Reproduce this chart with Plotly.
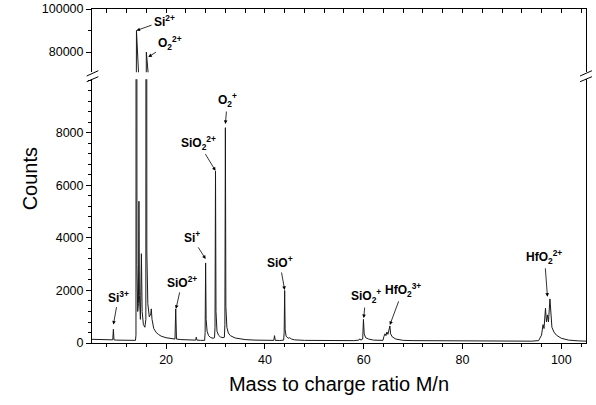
import plotly.graph_objects as go

# ---- spectrum data ----
mass = [5.0, 6, 7, 8, 9, 9.2, 9.33, 9.45, 10, 11, 12, 13, 13.8,
        13.9, 14.0, 14.1, 14.25, 14.4, 14.5, 14.6, 14.8, 15.0, 15.15, 15.4, 15.7, 15.9,
        16.0, 16.1, 16.3, 16.6, 16.9, 17.0, 17.15, 17.5, 18.0, 18.5, 19.0, 20, 21, 21.8,
        21.95, 22.1, 23, 24, 25, 26.0, 26.1, 26.25, 27, 27.8, 27.9, 28.0, 28.1, 28.3,
        28.6, 29.0, 29.5, 29.8, 29.9, 30.0, 30.1, 30.3, 30.6, 31.0, 31.5, 31.8, 31.9,
        32.0, 32.1, 32.3, 32.6, 33, 34, 35, 36, 38, 40, 41.8, 41.95, 42.1, 43, 43.8,
        43.9, 44.0, 44.1, 44.3, 44.7, 45, 45.4, 46, 48, 50, 55, 58, 59.0, 59.2, 59.4,
        59.8, 59.95, 60.1, 60.4, 61, 62, 63, 63.9, 64.1, 64.3, 64.5, 64.7, 64.9, 65.1,
        65.3, 65.45, 65.8, 66.5, 68, 70, 75, 80, 85, 90, 94, 95.4, 96.0, 96.3, 96.5,
        96.8, 97.0, 97.2, 97.4, 97.7, 97.9, 98.1, 98.5, 99.0, 100.0, 101.5, 103.5, 105]
counts = [140, 130, 125, 120, 115, 120, 520, 120, 110, 105, 100, 95, 100,
          300, 90000, 3000, 1200, 1500, 5400, 1800, 900, 3400, 1200, 700, 600, 900,
          80000, 3500, 1500, 1000, 1100, 1300, 900, 550, 400, 320, 260, 200, 160, 150,
          1300, 150, 130, 120, 110, 110, 220, 110, 100, 100, 400, 3050, 900, 450,
          280, 210, 180, 200, 600, 6550, 1200, 450, 300, 230, 200, 220, 700,
          8200, 1400, 600, 380, 280, 190, 150, 130, 110, 100, 100, 280, 100, 95, 110,
          400, 2000, 500, 260, 180, 200, 150, 120, 100, 95, 90, 90, 110, 160, 110,
          150, 900, 350, 200, 150, 110, 90, 100, 250, 350, 280, 420, 330, 480,
          650, 350, 230, 150, 100, 90, 80, 75, 70, 70, 70, 90, 300, 700, 550,
          1320, 800, 1070, 800, 1680, 900, 600, 420, 300, 180, 110, 80, 70]

# ---- peak labels ----
label_text = ["Si<sup>3+</sup>", "Si<sup>2+</sup>", "O<sub>2</sub><sup>2+</sup>",
              "SiO<sup>2+</sup>", "Si<sup>+</sup>", "SiO<sub>2</sub><sup>2+</sup>",
              "O<sub>2</sub><sup>+</sup>", "SiO<sup>+</sup>", "SiO<sub>2</sub><sup>+</sup>",
              "HfO<sub>2</sub><sup>3+</sup>", "HfO<sub>2</sub><sup>2+</sup>"]
label_mass = [9.33, 14.0, 16.4, 22.0, 28.0, 30.0, 32.0, 44.0, 60.0, 65.3, 97.2]
label_count = [700, 90000, 77700, 1300, 3200, 6560, 8340, 2020, 950, 690, 1760]
label_upper = [False, True, True, False, False, False, False, False, False, False, False]
label_dx = [5, 28, 22, 6, -14, -17, 2, -5, 2, 13, -3]
label_dy = [-28, -10, -14, -27, -22, -28, -24, -28, -22, -35, -40]

x_range = [5, 105]
low_range = [0, 10050]
high_range = [70700, 100000]
low_ticks = [0, 2000, 4000, 6000, 8000]
high_ticks = [80000, 100000]

FONT = "Liberation Sans, Arial, sans-serif"
LINE = "#1a1a1a"

fig = go.Figure()
fig.add_trace(go.Scatter(x=mass, y=counts, mode="lines", xaxis="x", yaxis="y",
                         line=dict(color=LINE, width=1), hoverinfo="skip"))
fig.add_trace(go.Scatter(x=mass, y=counts, mode="lines", xaxis="x2", yaxis="y2",
                         line=dict(color=LINE, width=1), hoverinfo="skip"))

annotations = []
for t, m, c, up, dx, dy in zip(label_text, label_mass, label_count, label_upper, label_dx, label_dy):
    annotations.append(dict(
        x=m, y=c, xref="x2" if up else "x", yref="y2" if up else "y",
        text="<b>" + t + "</b>", showarrow=True, ax=dx, ay=dy,
        arrowhead=2, arrowsize=0.9, arrowwidth=0.8, arrowcolor="black",
        font=dict(family=FONT, size=12, color="black"), standoff=0, startstandoff=1,
    ))

annotations.append(dict(text="Counts", textangle=-90, xref="paper", yref="paper",
                        x=-0.1255, y=0.49, xanchor="center", yanchor="middle",
                        showarrow=False, font=dict(family=FONT, size=20, color="black")))

tickfont = dict(family=FONT, size=12.5, color="black")

# axis break marks (decoration)
shapes = []
for xs in ([-0.0107, 0.0128], [0.988, 1.012]):
    for ys in ([0.7994, 0.8153], [0.7823, 0.7973]):
        shapes.append(dict(type="line", xref="paper", yref="paper",
                           x0=xs[0], x1=xs[1], y0=ys[0], y1=ys[1],
                           line=dict(color="black", width=1)))

fig.update_layout(
    width=596, height=405,
    margin=dict(l=92, r=10, t=9, b=62, autoexpand=False),
    paper_bgcolor="white", plot_bgcolor="white",
    showlegend=False,
    xaxis=dict(range=x_range, anchor="y", tickmode="linear", tick0=0, dtick=20,
               ticks="outside", ticklen=5, tickwidth=1, tickcolor="black",
               minor=dict(tickmode="linear", tick0=0, dtick=4, ticks="outside", ticklen=3,
                          tickcolor="black"),
               showline=True, linecolor="black", linewidth=1, showgrid=False, zeroline=False,
               tickfont=tickfont, automargin=False, ticklabeloverflow="allow",
               title=dict(text="Mass to charge ratio M/n", standoff=10,
                          font=dict(family=FONT, size=20, color="black"))),
    xaxis2=dict(range=x_range, matches="x", side="top", anchor="y2",
                tickmode="linear", tick0=0, dtick=4, ticks="inside", ticklen=4,
                tickcolor="black", showticklabels=False, showline=True,
                linecolor="black", linewidth=1, showgrid=False, zeroline=False,
                automargin=False),
    yaxis=dict(domain=[0, 0.790], range=low_range, anchor="x",
               tickmode="array", tickvals=low_ticks, tickformat="d", ticks="outside", ticklen=5,
               tickcolor="black",
               minor=dict(tickmode="linear", tick0=0, dtick=400, ticks="outside", ticklen=3,
                          tickcolor="black"),
               showline=True, mirror=True, linecolor="black", linewidth=1,
               showgrid=False, zeroline=False, tickfont=tickfont, automargin=False,
               ticklabeloverflow="allow"),
    yaxis2=dict(domain=[0.811, 1], range=high_range, anchor="x2",
                tickmode="array", tickvals=high_ticks, tickformat="d", ticks="outside", ticklen=5,
                tickcolor="black",
                minor=dict(tickmode="linear", tick0=0, dtick=10000, ticks="outside", ticklen=3,
                           tickcolor="black"),
                showline=True, mirror=True, linecolor="black", linewidth=1,
                showgrid=False, zeroline=False, tickfont=tickfont, automargin=False,
                ticklabeloverflow="allow"),
    annotations=annotations,
    shapes=shapes,
)

fig.write_html("out.html", config={"displayModeBar": False},
               post_script="document.body.style.margin='0';")
